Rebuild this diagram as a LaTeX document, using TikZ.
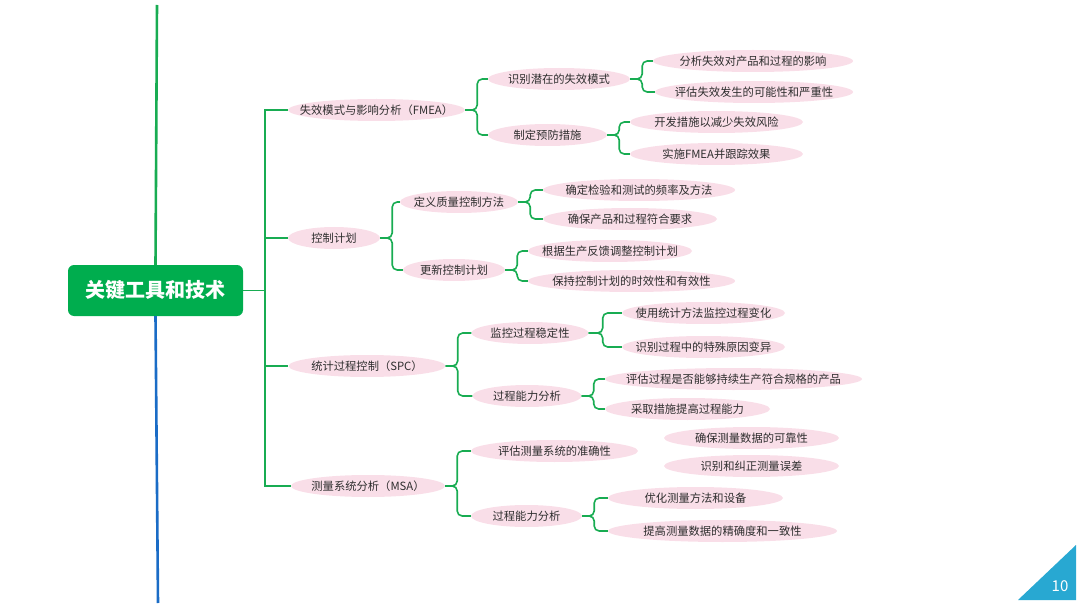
\documentclass[tikz,border=0pt]{standalone}
\usepackage{fontspec}
\setmainfont{Noto Sans CJK SC}
\usetikzlibrary{shapes.geometric}
\definecolor{mapgreen}{RGB}{24,172,82}
\definecolor{rootgreen}{RGB}{0,173,78}
\definecolor{pillpink}{RGB}{249,222,232}
\definecolor{trunkblue}{RGB}{26,108,198}
\definecolor{cornerblue}{RGB}{40,168,210}

\begin{document}
\begin{tikzpicture}[x=1pt, y=-1pt,
    pill/.style={ellipse, fill=pillpink, inner xsep=-25pt, inner ysep=0pt,
        minimum height=22pt, minimum width=#1pt,
        font=\fontsize{11.3}{13}\selectfont, text=black!82},
    link/.style={draw=mapgreen, line width=1.8pt},
    brace/.style={draw=mapgreen, line width=1.6pt, rounded corners=5pt}]
    \useasboundingbox (0,0) rectangle (1080,607);

    % Draw root and spine
    \node[rectangle, rounded corners=6pt, fill=rootgreen, text=white,
        minimum width=175pt, minimum height=51pt,
        font=\fontsize{20}{22}\selectfont\bfseries] (root) at (155.5,290.5) {关键工具和技术};
    \coordinate (spinetop) at (157,5);
    \coordinate (spinebot) at (158,603);
    \draw[draw=mapgreen, line width=2.6pt] (spinetop) -- (root.north);
    \draw[draw=trunkblue, line width=2.6pt] (root.south) -- (spinebot);

    % Draw nodes
    \node[pill=177] (fmea) at (376.5,110) {失效模式与影响分析（FMEA）};
    \node[pill=92] (plan) at (334,238) {控制计划};
    \node[pill=157] (spc) at (367,366) {统计过程控制（SPC）};
    \node[pill=154] (msa) at (368,486) {测量系统分析（MSA）};

    \node[pill=142] (fmea1) at (559,79) {识别潜在的失效模式};
    \node[pill=119] (fmea2) at (547.5,135) {制定预防措施};
    \node[pill=118] (plan1) at (459,202) {定义质量控制方法};
    \node[pill=102] (plan2) at (454,270) {更新控制计划};
    \node[pill=117] (spc1) at (530,333) {监控过程稳定性};
    \node[pill=109] (spc2) at (527,396) {过程能力分析};
    \node[pill=167] (msa1) at (554.5,451) {评估测量系统的准确性};
    \node[pill=111] (msa2) at (526.5,516) {过程能力分析};

    \node[pill=200] (fmea11) at (753,61) {分析失效对产品和过程的影响};
    \node[pill=198] (fmea12) at (754,92) {评估失效发生的可能性和严重性};
    \node[pill=173] (fmea21) at (716.5,122) {开发措施以减少失效风险};
    \node[pill=173] (fmea22) at (716.5,154) {实施FMEA并跟踪效果};
    \node[pill=192] (plan11) at (639,190) {确定检验和测试的频率及方法};
    \node[pill=174] (plan12) at (630,219) {确保产品和过程符合要求};
    \node[pill=164] (plan21) at (610,251) {根据生产反馈调整控制计划};
    \node[pill=207] (plan22) at (631.5,281) {保持控制计划的时效性和有效性};
    \node[pill=163] (spc11) at (703.5,313) {使用统计方法监控过程变化};
    \node[pill=163] (spc12) at (703.5,347) {识别过程中的特殊原因变异};
    \node[pill=257] (spc21) at (733.5,379) {评估过程是否能够持续生产符合规格的产品};
    \node[pill=165] (spc22) at (687.5,409) {采取措施提高过程能力};
    \node[pill=175] (msa11) at (751.5,438) {确保测量数据的可靠性};
    \node[pill=175] (msa12) at (751.5,466) {识别和纠正测量误差};
    \node[pill=175] (msa21) at (695.5,498) {优化测量方法和设备};
    \node[pill=229] (msa22) at (722.5,531) {提高测量数据的精确度和一致性};

    % Draw connections
    \coordinate (trunk) at (265,290.5);
    \draw[link] (root.east) -- (trunk);
    \draw[link] (trunk) |- (fmea.west);
    \draw[link] (trunk) |- (plan.west);
    \draw[link] (trunk) |- (spc.west);
    \draw[link] (trunk) |- (msa.west);

    \draw[brace] (fmea.east) -- ++(12,0) |- (fmea1.west);
    \draw[brace] (fmea.east) -- ++(12,0) |- (fmea2.west);
    \draw[brace] (plan.east) -- ++(12,0) |- (plan1.west);
    \draw[brace] (plan.east) -- ++(12,0) |- (plan2.west);
    \draw[brace] (spc.east) -- ++(12,0) |- (spc1.west);
    \draw[brace] (spc.east) -- ++(12,0) |- (spc2.west);
    \draw[brace] (msa.east) -- ++(12,0) |- (msa1.west);
    \draw[brace] (msa.east) -- ++(12,0) |- (msa2.west);

    \draw[brace] (fmea1.east) -- ++(12,0) |- (fmea11.west);
    \draw[brace] (fmea1.east) -- ++(12,0) |- (fmea12.west);
    \draw[brace] (fmea2.east) -- ++(12,0) |- (fmea21.west);
    \draw[brace] (fmea2.east) -- ++(12,0) |- (fmea22.west);
    \draw[brace] (plan1.east) -- ++(12,0) |- (plan11.west);
    \draw[brace] (plan1.east) -- ++(12,0) |- (plan12.west);
    \draw[brace] (plan2.east) -- ++(12,0) |- (plan21.west);
    \draw[brace] (plan2.east) -- ++(12,0) |- (plan22.west);
    \draw[brace] (spc1.east) -- ++(14,0) |- (spc11.west);
    \draw[brace] (spc1.east) -- ++(14,0) |- (spc12.west);
    \draw[brace] (spc2.east) -- ++(12,0) |- (spc21.west);
    \draw[brace] (spc2.east) -- ++(12,0) |- (spc22.west);
    \draw[brace] (msa2.east) -- ++(12,0) |- (msa21.west);
    \draw[brace] (msa2.east) -- ++(12,0) |- (msa22.west);

    % Page number
    \fill[cornerblue] (1018,600) -- (1076,545) -- (1076,600) -- cycle;
    \node[text=white, font=\fontsize{15}{16}\selectfont] (pagenum) at (1060,586) {10};
\end{tikzpicture}
\end{document}
